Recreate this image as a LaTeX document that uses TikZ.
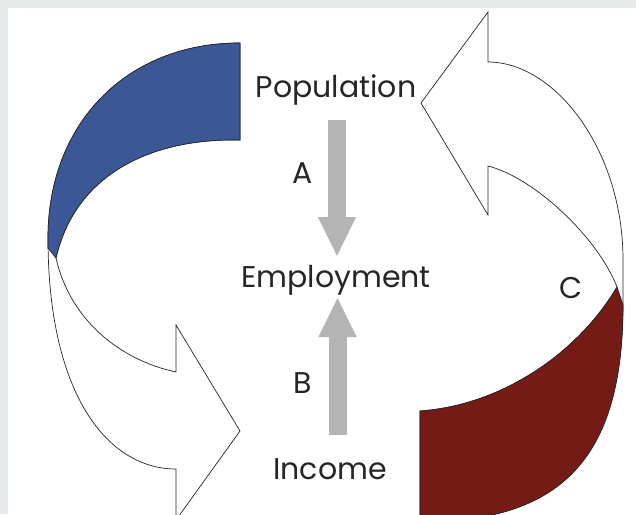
\documentclass[tikz,border=0pt]{standalone}
\usepackage{fontspec}
\setmainfont{Poppins}
\usetikzlibrary{arrows.meta}
\definecolor{bgframe}{HTML}{E6EBEA}
\definecolor{bandblue}{HTML}{3B5795}
\definecolor{bandred}{HTML}{741B15}
\definecolor{flowgray}{HTML}{B4B4B4}
\begin{document}
\begin{tikzpicture}[x=1pt,y=-1pt,
  outline/.style={draw=black!85, line width=0.7pt, line join=miter},
  txt/.style={font=\fontsize{30}{36}\selectfont, text=black!85, inner sep=0pt, anchor=base},
  flow/.style={draw=flowgray, line width=18pt, -{Triangle[width=35pt,length=40pt]}}]
\useasboundingbox (0,0) rectangle (636,514);
\fill[bgframe] (0,0) rectangle (636,514);
\fill[white] (8,8) rectangle (636,514);
\begin{scope}
\clip (8,8) rectangle (636,514);
% left bent arrow
\draw[outline, fill=white] (240,43) .. controls (125,43) and (48,125) .. (48,238)
  .. controls (48,395) and (108,469) .. (176,469) -- (176,520) -- (240,431) -- (176,325) -- (176,372)
  .. controls (120,360) and (70,320) .. (56,258)
  .. controls (75,175) and (150,138) .. (240,140) -- cycle;
\draw[outline, fill=bandblue] (240,43) .. controls (125,43) and (48,125) .. (48,238) -- (48,248) -- (56,258)
  .. controls (75,175) and (150,138) .. (240,140) -- cycle;
% right bent arrow
\draw[outline, fill=white] (420,411) .. controls (505,405) and (580,350) .. (617,287)
  .. controls (598,238) and (535,178) .. (488,166) -- (488,215) -- (421,103) -- (488,12) -- (488,62)
  .. controls (555,62) and (623,150) .. (623,260) -- (623,300)
  .. controls (623,460) and (560,522) .. (420,522) -- cycle;
\draw[outline, fill=bandred] (420,411) .. controls (505,405) and (580,350) .. (617,287) -- (623,305)
  .. controls (623,460) and (560,522) .. (420,522) -- cycle;
\end{scope}
% labels
\node[txt] (pop) at (336,97) {Population};
\node[txt] (emp) at (336,287) {Employment};
\node[txt] (inc) at (330,479) {Income};
\node[txt] (la) at (303,183) {A};
\node[txt] (lb) at (302.5,393) {B};
\node[txt] (lc) at (571.5,298) {C};
% grey flow arrows
\coordinate (aS) at (337,120);
\coordinate (aE) at (337,257);
\coordinate (bS) at (337.5,435);
\coordinate (bE) at (337.5,297);
\draw[flow] (aS) -- (aE);
\draw[flow] (bS) -- (bE);
\end{tikzpicture}
\end{document}
